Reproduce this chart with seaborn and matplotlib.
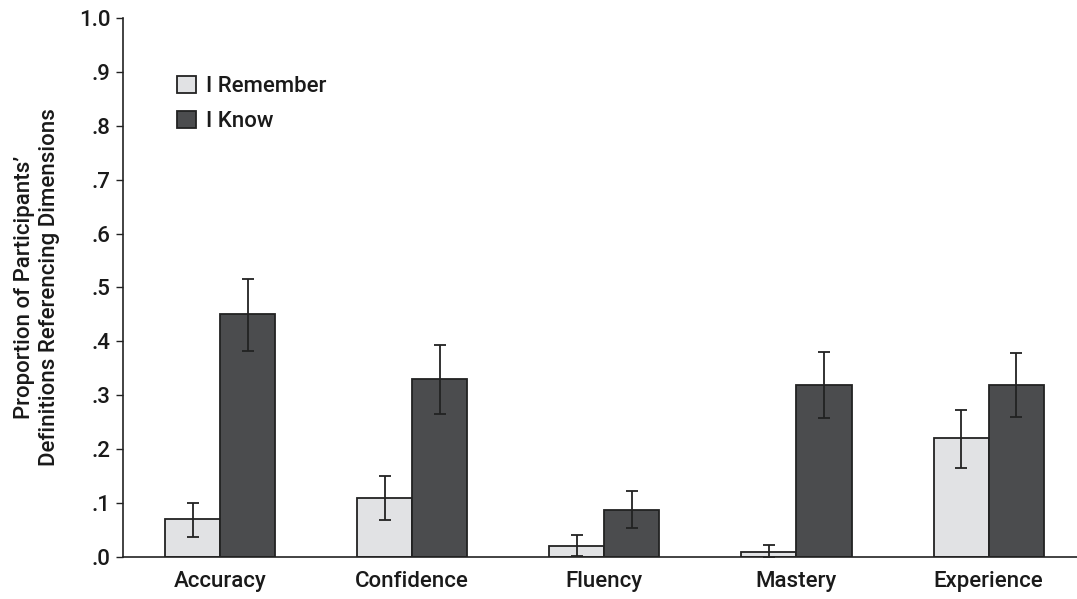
import pandas as pd
import matplotlib.pyplot as plt
import seaborn as sns
import numpy as np

categories = ['Accuracy', 'Confidence', 'Fluency', 'Mastery', 'Experience']
remember = [0.07, 0.11, 0.02, 0.01, 0.22]
remember_lo = [0.038, 0.068, 0.001, 0.0, 0.165]
remember_hi = [0.100, 0.150, 0.040, 0.022, 0.273]
know = [0.45, 0.33, 0.087, 0.32, 0.32]
know_lo = [0.383, 0.265, 0.053, 0.257, 0.259]
know_hi = [0.515, 0.393, 0.122, 0.381, 0.379]
groups = ['I Remember', 'I Know']
yticks = [0.0, 0.1, 0.2, 0.3, 0.4, 0.5, 0.6, 0.7, 0.8, 0.9, 1.0]
ytick_labels = ['.0', '.1', '.2', '.3', '.4', '.5', '.6', '.7', '.8', '.9', '1.0']

sns.set_style('white')
plt.rcParams['font.family'] = ['Roboto', 'DejaVu Sans']
plt.rcParams['font.weight'] = 'medium'
plt.rcParams['axes.labelweight'] = 'medium'

df = pd.DataFrame({
    'dimension': categories * 2,
    'group': [groups[0]] * 5 + [groups[1]] * 5,
    'value': remember + know,
})

fig = plt.figure(figsize=(10.77, 5.99), dpi=100)
ax = fig.add_axes([0.1142, 0.0701, 0.8858, 0.8999])

pal = {'I Remember': '#e1e2e4', 'I Know': '#4b4c4e'}
sns.barplot(data=df, x='dimension', y='value', hue='group', order=categories,
            hue_order=groups, palette=pal, width=0.573, errorbar=None,
            edgecolor='#222222', linewidth=1.3, saturation=1, ax=ax)

# error bars
for cont, vals, lo, hi in zip(ax.containers, [remember, know],
                              [remember_lo, know_lo], [remember_hi, know_hi]):
    xs = [p.get_x() + p.get_width() / 2 for p in cont.patches]
    v = np.array(vals)
    err = [v - np.array(lo), np.array(hi) - v]
    ax.errorbar(xs, v, yerr=err, fmt='none', ecolor='#222222',
                elinewidth=1.3, capsize=4.5, capthick=1.3)

ax.set_xlim(-0.505, 4.46)
ax.set_ylim(0, 1.0)
ax.set_yticks(yticks)
ax.set_yticklabels(ytick_labels)
ax.tick_params(axis='y', length=5, width=1, color='#222222', labelsize=16,
               labelcolor='#1a1a1a', left=True, pad=4)
ax.tick_params(axis='x', length=0, labelsize=16, labelcolor='#1a1a1a', pad=10)
ax.set_xlabel('')
ax.set_ylabel('Proportion of Participants\u2019\nDefinitions Referencing Dimensions',
              fontsize=16, color='#1a1a1a', labelpad=14)
for s in ['top', 'right']:
    ax.spines[s].set_visible(False)
for s in ['left', 'bottom']:
    ax.spines[s].set_color('#222222')
    ax.spines[s].set_linewidth(1.2)

leg = ax.legend(loc='upper left', bbox_to_anchor=(0.036, 0.93), frameon=False,
                fontsize=16, handlelength=0.85, handleheight=0.85,
                handletextpad=0.45, labelspacing=0.6)
for t in leg.get_texts():
    t.set_color('#1a1a1a')

fig.savefig('out.png', dpi=100)
